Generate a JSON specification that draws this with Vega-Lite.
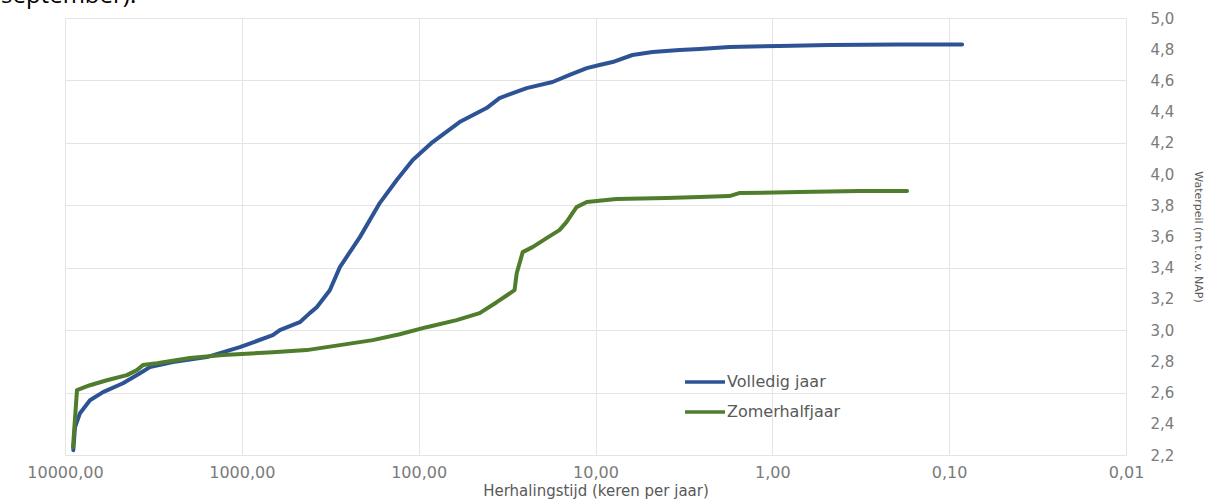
{
  "$schema": "https://vega.github.io/schema/vega-lite/v6.json",
  "width": 1061,
  "height": 437,
  "autosize": {"type": "none"},
  "padding": {"left": 65, "top": 18, "right": 90, "bottom": 46},
  "background": "white",
  "title": {
    "text": "september).",
    "anchor": "start",
    "frame": "group",
    "orient": "top",
    "font": "Open Sans",
    "fontSize": 24,
    "fontWeight": "normal",
    "color": "#000000",
    "baseline": "top",
    "offset": 0,
    "dx": -64,
    "dy": -3
  },
  "config": {
    "view": {"stroke": null},
    "axis": {"labelFont": "DejaVu Sans", "titleFont": "DejaVu Sans", "titleFontWeight": "normal"}
  },
  "data": {
    "values": [
      {"s": "Volledig jaar", "t": 8976, "v": 2.231},
      {"s": "Volledig jaar", "t": 8780, "v": 2.378},
      {"s": "Volledig jaar", "t": 8226, "v": 2.468},
      {"s": "Volledig jaar", "t": 7225, "v": 2.551},
      {"s": "Volledig jaar", "t": 6095, "v": 2.603},
      {"s": "Volledig jaar", "t": 4698, "v": 2.66},
      {"s": "Volledig jaar", "t": 3767, "v": 2.724},
      {"s": "Volledig jaar", "t": 3311, "v": 2.763},
      {"s": "Volledig jaar", "t": 2455, "v": 2.795},
      {"s": "Volledig jaar", "t": 1578, "v": 2.827},
      {"s": "Volledig jaar", "t": 1026, "v": 2.891},
      {"s": "Volledig jaar", "t": 668, "v": 2.968},
      {"s": "Volledig jaar", "t": 610, "v": 3.0},
      {"s": "Volledig jaar", "t": 470, "v": 3.051},
      {"s": "Volledig jaar", "t": 413, "v": 3.109},
      {"s": "Volledig jaar", "t": 377, "v": 3.147},
      {"s": "Volledig jaar", "t": 318, "v": 3.256},
      {"s": "Volledig jaar", "t": 279, "v": 3.404},
      {"s": "Volledig jaar", "t": 215, "v": 3.596},
      {"s": "Volledig jaar", "t": 166, "v": 3.814},
      {"s": "Volledig jaar", "t": 133, "v": 3.962},
      {"s": "Volledig jaar", "t": 108, "v": 4.09},
      {"s": "Volledig jaar", "t": 83.4, "v": 4.205},
      {"s": "Volledig jaar", "t": 58.7, "v": 4.333},
      {"s": "Volledig jaar", "t": 41.3, "v": 4.423},
      {"s": "Volledig jaar", "t": 34.9, "v": 4.487},
      {"s": "Volledig jaar", "t": 24.5, "v": 4.551},
      {"s": "Volledig jaar", "t": 17.5, "v": 4.59},
      {"s": "Volledig jaar", "t": 14.0, "v": 4.635},
      {"s": "Volledig jaar", "t": 11.2, "v": 4.679},
      {"s": "Volledig jaar", "t": 9.49, "v": 4.699},
      {"s": "Volledig jaar", "t": 8.01, "v": 4.718},
      {"s": "Volledig jaar", "t": 6.18, "v": 4.763},
      {"s": "Volledig jaar", "t": 4.76, "v": 4.782},
      {"s": "Volledig jaar", "t": 3.35, "v": 4.795},
      {"s": "Volledig jaar", "t": 2.58, "v": 4.801},
      {"s": "Volledig jaar", "t": 1.75, "v": 4.814},
      {"s": "Volledig jaar", "t": 0.913, "v": 4.821},
      {"s": "Volledig jaar", "t": 0.476, "v": 4.827},
      {"s": "Volledig jaar", "t": 0.191, "v": 4.83},
      {"s": "Volledig jaar", "t": 0.0845, "v": 4.83},
      {"s": "Zomerhalfjaar", "t": 9010, "v": 2.25},
      {"s": "Zomerhalfjaar", "t": 8555, "v": 2.615},
      {"s": "Zomerhalfjaar", "t": 7225, "v": 2.647},
      {"s": "Zomerhalfjaar", "t": 5795, "v": 2.679},
      {"s": "Zomerhalfjaar", "t": 4468, "v": 2.712},
      {"s": "Zomerhalfjaar", "t": 3921, "v": 2.744},
      {"s": "Zomerhalfjaar", "t": 3625, "v": 2.776},
      {"s": "Zomerhalfjaar", "t": 3020, "v": 2.788},
      {"s": "Zomerhalfjaar", "t": 1966, "v": 2.821},
      {"s": "Zomerhalfjaar", "t": 1280, "v": 2.84},
      {"s": "Zomerhalfjaar", "t": 668, "v": 2.859},
      {"s": "Zomerhalfjaar", "t": 430, "v": 2.872},
      {"s": "Zomerhalfjaar", "t": 279, "v": 2.904},
      {"s": "Zomerhalfjaar", "t": 182, "v": 2.936},
      {"s": "Zomerhalfjaar", "t": 128, "v": 2.974},
      {"s": "Zomerhalfjaar", "t": 90.2, "v": 3.019},
      {"s": "Zomerhalfjaar", "t": 61.0, "v": 3.064},
      {"s": "Zomerhalfjaar", "t": 45.2, "v": 3.109},
      {"s": "Zomerhalfjaar", "t": 36.2, "v": 3.179},
      {"s": "Zomerhalfjaar", "t": 28.7, "v": 3.256},
      {"s": "Zomerhalfjaar", "t": 27.9, "v": 3.365},
      {"s": "Zomerhalfjaar", "t": 25.8, "v": 3.5},
      {"s": "Zomerhalfjaar", "t": 22.7, "v": 3.532},
      {"s": "Zomerhalfjaar", "t": 18.9, "v": 3.59},
      {"s": "Zomerhalfjaar", "t": 16.0, "v": 3.641},
      {"s": "Zomerhalfjaar", "t": 14.6, "v": 3.692},
      {"s": "Zomerhalfjaar", "t": 12.8, "v": 3.788},
      {"s": "Zomerhalfjaar", "t": 11.2, "v": 3.821},
      {"s": "Zomerhalfjaar", "t": 7.61, "v": 3.84},
      {"s": "Zomerhalfjaar", "t": 3.97, "v": 3.846},
      {"s": "Zomerhalfjaar", "t": 2.58, "v": 3.853},
      {"s": "Zomerhalfjaar", "t": 1.75, "v": 3.859},
      {"s": "Zomerhalfjaar", "t": 1.54, "v": 3.878},
      {"s": "Zomerhalfjaar", "t": 0.703, "v": 3.885},
      {"s": "Zomerhalfjaar", "t": 0.322, "v": 3.891},
      {"s": "Zomerhalfjaar", "t": 0.173, "v": 3.891}
    ]
  },
  "mark": {"type": "line", "strokeWidth": 4, "strokeCap": "round", "strokeJoin": "round"},
  "encoding": {
    "x": {
      "field": "t",
      "type": "quantitative",
      "scale": {"type": "log", "domain": [0.01, 10000], "reverse": true, "nice": false},
      "axis": {
        "title": "Herhalingstijd (keren per jaar)",
        "titleFontSize": 15,
        "titleColor": "#595959",
        "titlePadding": 3,
        "values": [10000, 1000, 100, 10, 1, 0.1, 0.01],
        "labelExpr": "replace(format(datum.value, '.2f'), '.', ',')",
        "labelFontSize": 16,
        "labelColor": "#7a7a7a",
        "labelPadding": 9,
        "labelFlush": false,
        "labelOverlap": false,
        "ticks": false,
        "domain": false,
        "grid": true,
        "gridColor": "#e4e4e4",
        "gridWidth": 1
      }
    },
    "y": {
      "field": "v",
      "type": "quantitative",
      "scale": {"domain": [2.2, 5.0], "nice": false, "zero": false},
      "axis": {
        "orient": "right",
        "title": "Waterpeil (m t.o.v. NAP)",
        "titleFontSize": 11,
        "titleColor": "#595959",
        "titlePadding": 19,
        "values": [2.2, 2.4, 2.6, 2.8, 3.0, 3.2, 3.4, 3.6, 3.8, 4.0, 4.2, 4.4, 4.6, 4.8, 5.0],
        "labelExpr": "replace(format(datum.value, '.1f'), '.', ',')",
        "labelFontSize": 15,
        "labelColor": "#7a7a7a",
        "labelPadding": 24,
        "labelOverlap": false,
        "ticks": false,
        "domain": false,
        "grid": true,
        "gridColor": "#e4e4e4",
        "gridOpacity": {"condition": {"test": "round(datum.value*10) % 4 == 2", "value": 1}, "value": 0}
      }
    },
    "color": {
      "field": "s",
      "type": "nominal",
      "scale": {"domain": ["Volledig jaar", "Zomerhalfjaar"], "range": ["#2E5395", "#4F7D2C"]},
      "legend": {
        "title": null,
        "orient": "none",
        "legendX": 628,
        "legendY": 352,
        "padding": 0,
        "symbolType": "M-2,0H2",
        "symbolSize": 400,
        "symbolStrokeWidth": 3.5,
        "labelOffset": 10,
        "rowPadding": 10,
        "labelFont": "DejaVu Sans",
        "labelFontSize": 16,
        "labelColor": "#595959"
      }
    }
  }
}
